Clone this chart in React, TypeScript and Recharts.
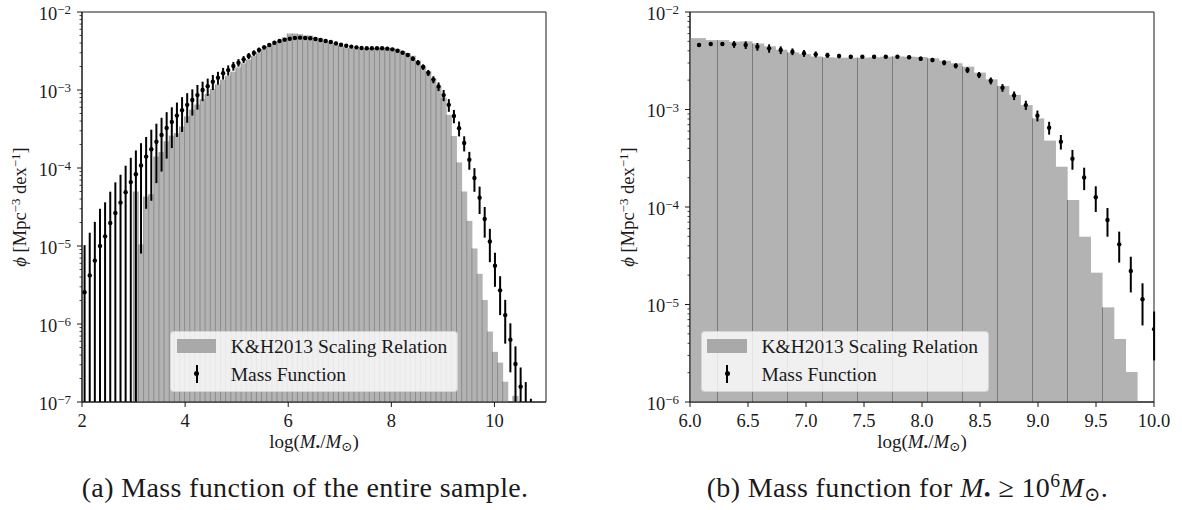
import React from 'react';
import { ComposedChart, Bar, Scatter, ErrorBar, XAxis, YAxis, ReferenceArea } from 'recharts';

// ---- panel (a): entire sample, bins of ~0.1 dex ----
const binsA = [
  2.05, 2.15, 2.249, 2.349, 2.448, 2.548, 2.647, 2.747, 2.846, 2.946,
  3.045, 3.145, 3.244, 3.344, 3.443, 3.543, 3.642, 3.742, 3.841, 3.941,
  4.04, 4.14, 4.239, 4.339, 4.438, 4.538, 4.637, 4.737, 4.836, 4.936,
  5.035, 5.135, 5.234, 5.334, 5.433, 5.533, 5.632, 5.732, 5.831, 5.931,
  6.03, 6.13, 6.229, 6.329, 6.428, 6.528, 6.627, 6.727, 6.826, 6.926,
  7.025, 7.125, 7.224, 7.324, 7.423, 7.523, 7.622, 7.722, 7.821, 7.921,
  8.02, 8.12, 8.219, 8.319, 8.418, 8.518, 8.617, 8.717, 8.816, 8.916,
  9.015, 9.115, 9.214, 9.314, 9.413, 9.513, 9.612, 9.712, 9.811, 9.911,
  10.01, 10.11, 10.209, 10.309, 10.408, 10.508, 10.607, 10.707,
];
// mass function phi [Mpc^-3 dex^-1]
const phiA = [
  2.55e-6, 4.2e-6, 6.5e-6, 1.0e-5, 1.33e-5, 1.97e-5, 2.65e-5, 3.6e-5, 4.9e-5, 6.6e-5,
  8.3e-5, 1.08e-4, 1.4e-4, 1.74e-4, 2.17e-4, 2.65e-4, 3.26e-4, 3.9e-4, 4.7e-4, 5.5e-4,
  6.45e-4, 7.45e-4, 8.6e-4, 1.0e-3, 1.12e-3, 1.28e-3, 1.44e-3, 1.64e-3, 1.8e-3, 2.03e-3,
  2.24e-3, 2.47e-3, 2.73e-3, 2.98e-3, 3.26e-3, 3.52e-3, 3.77e-3, 4.04e-3, 4.25e-3, 4.42e-3,
  4.55e-3, 4.64e-3, 4.69e-3, 4.64e-3, 4.6e-3, 4.5e-3, 4.38e-3, 4.25e-3, 4.12e-3, 3.96e-3,
  3.81e-3, 3.7e-3, 3.6e-3, 3.52e-3, 3.45e-3, 3.43e-3, 3.43e-3, 3.43e-3, 3.43e-3, 3.39e-3,
  3.32e-3, 3.19e-3, 3.01e-3, 2.81e-3, 2.52e-3, 2.24e-3, 1.97e-3, 1.66e-3, 1.36e-3, 1.11e-3,
  8.6e-4, 6.45e-4, 4.65e-4, 3.24e-4, 2.09e-4, 1.28e-4, 7.45e-5, 4.17e-5, 2.22e-5, 1.14e-5,
  5.6e-6, 2.7e-6, 1.3e-6, 6.3e-7, 3.07e-7, 1.57e-7, 7.0e-8, 9.0e-8,
];
const errA = [
  7.7e-6, 1.06e-5, 1.39e-5, 2.0e-5, 2.3e-5, 3.0e-5, 3.9e-5, 4.6e-5, 5.8e-5, 6.9e-5,
  8.5e-5, 1.0e-4, 1.1e-4, 1.36e-4, 1.53e-4, 1.75e-4, 1.94e-4, 2.1e-4, 2.2e-4, 2.6e-4,
  2.65e-4, 2.75e-4, 3.0e-4, 2.8e-4, 2.8e-4, 2.8e-4, 2.7e-4, 2.8e-4, 2.7e-4, 2.6e-4,
  2.5e-4, 2.5e-4, 2.5e-4, 2.4e-4, 2.3e-4, 2.1e-4, 2.0e-4, 2.0e-4, 2.0e-4, 2.0e-4,
  2.0e-4, 2.0e-4, 2.0e-4, 2.0e-4, 2.0e-4, 2.0e-4, 2.0e-4, 2.0e-4, 1.9e-4, 1.9e-4,
  1.8e-4, 1.7e-4, 1.6e-4, 1.5e-4, 1.4e-4, 1.3e-4, 1.3e-4, 1.3e-4, 1.3e-4, 1.4e-4,
  1.5e-4, 1.6e-4, 1.7e-4, 1.7e-4, 1.7e-4, 1.7e-4, 1.6e-4, 1.5e-4, 1.4e-4, 1.4e-4,
  1.4e-4, 1.2e-4, 9.0e-5, 7.0e-5, 4.6e-5, 3.3e-5, 2.5e-5, 1.6e-5, 9.4e-6, 5.2e-6,
  2.6e-6, 1.4e-6, 7.4e-7, 3.9e-7, 2.1e-7, 1.2e-7, 1.1e-7, 2.0e-8,
];
// K&H2013 scaling relation histogram (null = empty bin)
const histA = [
  null, null, null, null, null, null, null, null, null, null,
  5.0e-5, 1.05e-5, 4.3e-5, 4.6e-5, 1.4e-4, 1.6e-4, 2.2e-4, 2.6e-4, 2.8e-4, 3.4e-4,
  4.6e-4, 5.6e-4, 6.5e-4, 7.6e-4, 8.9e-4, 1.03e-3, 1.18e-3, 1.35e-3, 1.52e-3, 1.72e-3,
  1.95e-3, 2.2e-3, 2.45e-3, 2.75e-3, 3.05e-3, 3.35e-3, 3.65e-3, 3.95e-3, 4.25e-3, 4.7e-3,
  5.3e-3, 5.3e-3, 5.2e-3, 5.0e-3, 5.0e-3, 4.75e-3, 4.6e-3, 4.3e-3, 4.05e-3, 3.8e-3,
  3.68e-3, 3.5e-3, 3.43e-3, 3.4e-3, 3.4e-3, 3.4e-3, 3.43e-3, 3.48e-3, 3.5e-3, 3.48e-3,
  3.45e-3, 3.35e-3, 3.17e-3, 2.98e-3, 2.75e-3, 2.39e-3, 2.04e-3, 1.74e-3, 1.41e-3, 1.11e-3,
  8.0e-4, 4.8e-4, 2.57e-4, 1.18e-4, 5.0e-5, 2.1e-5, 9.3e-6, 4.4e-6, 2.03e-6, 8.0e-7,
  4.4e-7, 3.2e-7, 1.82e-7, null, 1.2e-7, null, null, null,
];

// ---- panel (b): M >= 10^6 ----
const binsB = [
  5.977, 6.078, 6.179, 6.279, 6.38, 6.48, 6.581, 6.682, 6.782, 6.883,
  6.983, 7.084, 7.185, 7.285, 7.386, 7.486, 7.587, 7.688, 7.788, 7.889,
  7.989, 8.09, 8.191, 8.291, 8.392, 8.492, 8.593, 8.694, 8.794, 8.895,
  8.995, 9.096, 9.197, 9.297, 9.398, 9.498, 9.599, 9.7, 9.8, 9.901, 10.001,
];
const phiB = [
  null, 4.59e-3, 4.7e-3, 4.7e-3, 4.66e-3, 4.59e-3, 4.41e-3, 4.24e-3, 4.07e-3, 3.92e-3,
  3.77e-3, 3.68e-3, 3.6e-3, 3.54e-3, 3.48e-3, 3.48e-3, 3.48e-3, 3.48e-3, 3.48e-3, 3.43e-3,
  3.32e-3, 3.22e-3, 3.02e-3, 2.81e-3, 2.54e-3, 2.26e-3, 1.97e-3, 1.67e-3, 1.39e-3, 1.11e-3,
  8.65e-4, 6.5e-4, 4.68e-4, 3.13e-4, 2.01e-4, 1.26e-4, 7.36e-5, 4.14e-5, 2.21e-5, 1.13e-5, 5.57e-6,
];
const errB = [
  null, 5.5e-5, 7.0e-5, 1.9e-4, 3.7e-4, 4.1e-4, 4.0e-4, 4.2e-4, 3.7e-4, 3.1e-4,
  3.0e-4, 2.6e-4, 2.2e-4, 1.8e-4, 1.4e-4, 1.4e-4, 1.4e-4, 1.0e-4, 1.0e-4, 1.4e-4,
  1.7e-4, 1.6e-4, 1.8e-4, 1.7e-4, 1.8e-4, 1.6e-4, 1.6e-4, 1.5e-4, 1.4e-4, 1.2e-4,
  1.1e-4, 9.8e-5, 8.0e-5, 7.2e-5, 5.2e-5, 3.7e-5, 2.4e-5, 1.45e-5, 8.8e-6, 5.2e-6, 2.9e-6,
];
const histB = [
  5.4e-3, 5.4e-3, 5.15e-3, 5.15e-3, 4.95e-3, 5.0e-3, 4.75e-3, 4.45e-3, 4.1e-3, 3.85e-3,
  3.7e-3, 3.5e-3, 3.43e-3, 3.4e-3, 3.4e-3, 3.4e-3, 3.43e-3, 3.48e-3, 3.5e-3, 3.48e-3,
  3.45e-3, 3.35e-3, 3.17e-3, 2.98e-3, 2.75e-3, 2.39e-3, 2.04e-3, 1.74e-3, 1.41e-3, 1.11e-3,
  8.1e-4, 4.8e-4, 2.59e-4, 1.18e-4, 4.96e-5, 2.12e-5, 9.35e-6, 4.43e-6, 2.03e-6, null, null,
];

const xTicksA = [2, 4, 6, 8, 10];
const xTicksB = [6.0, 6.5, 7.0, 7.5, 8.0, 8.5, 9.0, 9.5, 10.0];
const decadesA = [1e-7, 1e-6, 1e-5, 1e-4, 1e-3, 1e-2];
const decadesB = [1e-6, 1e-5, 1e-4, 1e-3, 1e-2];
const minorSteps = [2, 3, 4, 5, 6, 7, 8, 9];

const FONT = "'Liberation Serif', 'DejaVu Serif', serif";
const INK = '#1a1a1a';
const BAR_FILL = '#b3b3b3';
const BAR_EDGE = '#7a7a7a';

function logTicks(decades: number[]) {
  const out: number[] = [];
  decades.forEach((d, i) => {
    out.push(d);
    if (i < decades.length - 1) minorSteps.forEach((m) => out.push(m * d));
  });
  return out;
}

function histRows(bins: number[], hist: (number | null)[]) {
  return bins.map((x, i) => ({ x, v: hist[i] })).filter((d) => d.v != null);
}

function pointRows(bins: number[], phi: (number | null)[], err: (number | null)[], ymin: number) {
  return bins
    .map((x, i) => ({ x, y: phi[i], e: err[i] }))
    .filter((d) => d.y != null)
    .map((d) => ({ x: d.x, y: d.y as number, err: [Math.min(d.e as number, (d.y as number) - ymin), d.e as number] }));
}

function LogTick(props: any) {
  const { x, y, payload } = props;
  const lg = Math.log10(payload.value);
  const e = Math.round(lg);
  const major = Math.abs(lg - e) < 1e-6;
  return (
    <g>
      <line x1={x - (major ? 5 : 2.5)} x2={x} y1={y} y2={y} stroke={INK} strokeWidth={major ? 1 : 0.8} />
      {major && (
        <text x={x - 11} y={y + 7.5} textAnchor="end" fontFamily={FONT} fontSize={18.5} fill={INK}>
          10
          <tspan dy={-5.5} fontSize={13}>{'\u2212' + Math.abs(e)}</tspan>
        </text>
      )}
    </g>
  );
}

const makeXTick = (fmt: (v: number) => string) => (props: any) => {
  const { x, y, payload } = props;
  return (
    <g>
      <line x1={x} x2={x} y1={y} y2={y + 5} stroke={INK} />
      <text x={x} y={y + 24.5} textAnchor="middle" fontFamily={FONT} fontSize={18.5} fill={INK}>
        {fmt(payload.value)}
      </text>
    </g>
  );
};

// every bin outlined (fine moire in the dense panel)
const histShapeA = (p: any) => {
  if (!(p.height > 0)) return <g />;
  return (
    <g>
      <rect x={p.x} y={p.y} width={p.width + 0.6} height={p.height} fill={BAR_FILL} />
      <line x1={p.x} x2={p.x} y1={p.y} y2={p.y + p.height} stroke={BAR_EDGE} strokeWidth={0.7} />
    </g>
  );
};

// in the wide panel only every third outline shows
const histShapeB = (p: any) => {
  if (!(p.height > 0)) return <g />;
  const ex = Math.round(p.x) + 0.5;
  return (
    <g>
      <rect x={p.x} y={p.y} width={p.width + 0.6} height={p.height} fill={BAR_FILL} />
      {p.index % 3 === 0 && <line x1={ex} x2={ex} y1={p.y} y2={p.y + p.height} stroke={BAR_EDGE} strokeWidth={1} />}
    </g>
  );
};

const dot = (p: any) => <circle cx={p.cx} cy={p.cy} r={2.2} fill="#000" />;

const sup = (t: string) => <span style={{ fontSize: '0.7em', position: 'relative', top: '-0.5em' }}>{t}</span>;
const sub = (t: string) => <span style={{ fontSize: '0.7em', position: 'relative', top: '0.25em' }}>{t}</span>;

function MassLabel() {
  return (
    <>
      log(<i>M</i>{sub('\u2022')}/<i>M</i>{sub('\u2299')})
    </>
  );
}

function YLabel({ cx }: { cx: number }) {
  return (
    <div
      style={{
        position: 'absolute', left: cx, top: 207, transform: 'translate(-50%, -50%) rotate(-90deg)',
        whiteSpace: 'nowrap', fontFamily: FONT, fontSize: 18.5, lineHeight: '18.5px', color: INK,
      }}
    >
      <i>{'\u03d5'}</i> [Mpc{sup('\u22123')} dex{sup('\u22121')}]
    </div>
  );
}

function XLabel({ cx }: { cx: number }) {
  return (
    <div
      style={{
        position: 'absolute', left: cx, top: 431.5, transform: 'translateX(-50%)',
        whiteSpace: 'nowrap', fontFamily: FONT, fontSize: 19, lineHeight: '19px', color: INK,
      }}
    >
      <MassLabel />
    </div>
  );
}

function LegendBox({ left }: { left: number }) {
  return (
    <div
      style={{
        position: 'absolute', left, top: 330.7, width: 288, height: 61, boxSizing: 'border-box',
        background: 'rgba(255,255,255,0.8)', border: '1px solid rgba(205,205,205,0.8)', borderRadius: 4,
        fontFamily: FONT, fontSize: 19.5, lineHeight: '19.5px', color: INK,
      }}
    >
      <div style={{ position: 'absolute', left: 5.7, top: 7.6, width: 39.3, height: 13.3, background: '#a9a9a9' }} />
      <div style={{ position: 'absolute', left: 59.7, top: 5.4, whiteSpace: 'nowrap' }}>K&amp;H2013 Scaling Relation</div>
      <div style={{ position: 'absolute', left: 24.7, top: 33.3, width: 2, height: 18, background: '#000' }} />
      <div style={{ position: 'absolute', left: 23.2, top: 39.8, width: 5, height: 5, borderRadius: 3, background: '#000' }} />
      <div style={{ position: 'absolute', left: 59.7, top: 33.8, whiteSpace: 'nowrap' }}>Mass Function</div>
    </div>
  );
}

function Panel(props: {
  bins: number[]; hist: (number | null)[]; phi: (number | null)[]; err: (number | null)[];
  xDomain: [number, number]; yDomain: [number, number]; xTicks: number[]; yTicks: number[];
  fmt: (v: number) => string; shape: (p: any) => any; width: number; yAxisWidth: number;
}) {
  const bars = histRows(props.bins, props.hist);
  const pts = pointRows(props.bins, props.phi, props.err, props.yDomain[0]);
  return (
    <ComposedChart
      width={props.width} height={460} data={bars} barCategoryGap={0} barGap={0}
      margin={{ top: 12, right: props.width - props.yAxisWidth - 464, bottom: 0, left: 0 }}
    >
      <XAxis
        type="number" dataKey="x" domain={props.xDomain} allowDataOverflow ticks={props.xTicks} interval={0}
        tick={makeXTick(props.fmt)} tickLine={false} tickSize={0} tickMargin={0} height={58}
        axisLine={{ stroke: INK }}
      />
      <YAxis
        type="number" scale="log" domain={props.yDomain} allowDataOverflow ticks={props.yTicks} interval={0}
        tick={LogTick} tickLine={false} tickSize={0} tickMargin={0} width={props.yAxisWidth}
        axisLine={{ stroke: INK }}
      />
      <Bar dataKey="v" shape={props.shape} isAnimationActive={false} />
      <Scatter data={pts} dataKey="y" shape={dot} isAnimationActive={false}>
        <ErrorBar dataKey="err" direction="y" width={0} stroke="#000" strokeWidth={2} isAnimationActive={false} />
      </Scatter>
      <ReferenceArea
        x1={props.xDomain[0]} x2={props.xDomain[1]} y1={props.yDomain[0]} y2={props.yDomain[1]}
        fill="none" stroke={INK} strokeWidth={1} ifOverflow="visible"
      />
    </ComposedChart>
  );
}

const captionStyle: React.CSSProperties = {
  position: 'absolute', top: 473.5, whiteSpace: 'nowrap', fontFamily: FONT, fontSize: 28,
  lineHeight: '28px', color: INK, letterSpacing: 0.35,
};

export default function App() {
  return (
    <div style={{ position: 'absolute', left: 0, top: 0, width: 1182, height: 510, background: '#fff', overflow: 'hidden' }}>
      <div style={{ position: 'absolute', left: 0, top: 0 }}>
        <Panel
          bins={binsA} hist={histA} phi={phiA} err={errA} xDomain={[2, 11]} yDomain={[1e-7, 1e-2]}
          xTicks={xTicksA} yTicks={logTicks(decadesA)} fmt={(v) => String(v)}
          shape={histShapeA} width={570} yAxisWidth={82}
        />
      </div>
      <div style={{ position: 'absolute', left: 600, top: 0 }}>
        <Panel
          bins={binsB} hist={histB} phi={phiB} err={errB} xDomain={[6, 10]} yDomain={[1e-6, 1e-2]}
          xTicks={xTicksB} yTicks={logTicks(decadesB)} fmt={(v) => v.toFixed(1)}
          shape={histShapeB} width={582} yAxisWidth={90}
        />
      </div>

      <YLabel cx={21} />
      <YLabel cx={629} />
      <XLabel cx={314} />
      <XLabel cx={922} />
      <LegendBox left={170} />
      <LegendBox left={700.7} />

      <div style={{ ...captionStyle, left: 81.7 }}>(a) Mass function of the entire sample.</div>
      <div style={{ ...captionStyle, left: 706.7 }}>
        (b) Mass function for <i>M</i>{sub('\u2022')} ≥ 10{sup('6')}<i>M</i>{sub('\u2299')}.
      </div>
    </div>
  );
}
